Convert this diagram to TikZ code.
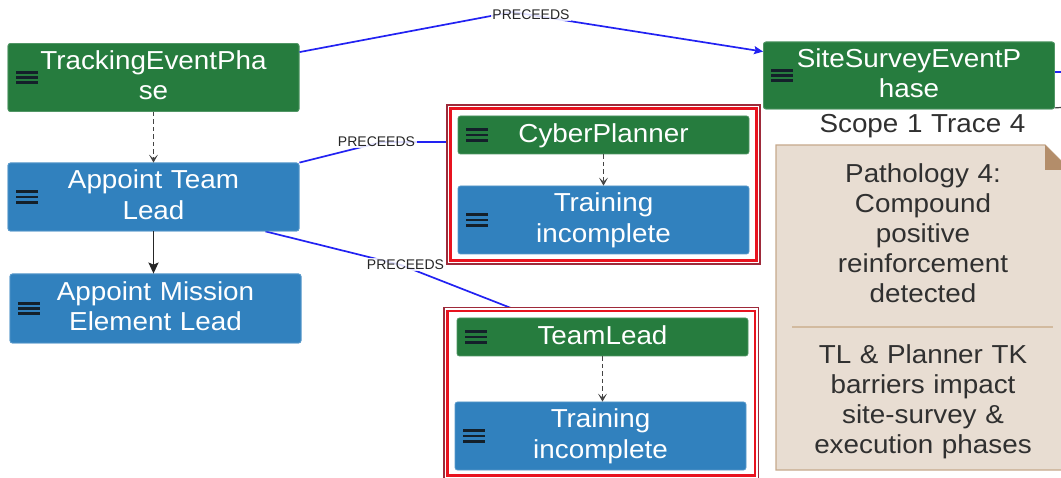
\documentclass[tikz,border=0pt]{standalone}
\usepackage{fontspec}
\setmainfont{Liberation Sans}[FakeStretch=1.07]
\newfontfamily\tagfont{Liberation Sans}
\usetikzlibrary{arrows.meta,calc}

\definecolor{phasegreen}{HTML}{267C3E}
\definecolor{taskblue}{HTML}{3181BE}
\definecolor{linkblue}{HTML}{2222F2}
\definecolor{flowgray}{HTML}{444444}
\definecolor{tagink}{HTML}{262626}
\definecolor{framered}{HTML}{E8131F}
\definecolor{framedark}{HTML}{9E2A3A}
\definecolor{notefill}{HTML}{E8DDD2}
\definecolor{noteedge}{HTML}{C6A98C}
\definecolor{notefold}{HTML}{B38D6A}
\definecolor{notedivider}{HTML}{D2BA9F}
\definecolor{noteink}{HTML}{303030}
\definecolor{iconink}{HTML}{14202A}

\tikzset{
  box/.style={rounded corners=2.5pt, line width=0.8pt, inner xsep=0pt, inner ysep=0pt,
    text width=291pt, align=center, text=white,
    font=\fontsize{26}{30.5}\selectfont, text height=19pt},
  twoline/.style={minimum height=68pt, text depth=35pt},
  oneline/.style={minimum height=38pt, text depth=4pt},
  phase/.style={box, fill=phasegreen, draw=phasegreen!80!white},
  task/.style={box, fill=taskblue, draw=taskblue!80!white},
  link/.style={draw=linkblue, line width=1.7pt},
  linkhead/.style={-{Stealth[length=9pt,width=8pt,inset=1.5pt]}},
  flow/.style={draw=flowgray, line width=1.7pt, dash pattern=on 4.5pt off 3pt,
    -{Stealth[length=8pt,width=9pt,inset=4pt]}},
  handoff/.style={draw=black!85, line width=1.8pt,
    -{Stealth[length=11pt,width=10pt,inset=2pt]}},
  tag/.style={font=\tagfont\fontsize{14}{15}\selectfont, text=tagink,
    fill=white, fill opacity=0.85, text opacity=1, inner sep=1.5pt},
  outerframe/.style={draw=framedark, line width=1.2pt, fill=white},
  innerframe/.style={draw=framered, line width=2.6pt},
  notetext/.style={text width=285pt, align=center, anchor=base, text=noteink,
    font=\fontsize{26}{30}\selectfont},
  menuicon/.pic={
    \foreach \k in {-1,0,1}{\fill[iconink] (0,\k*5.2-1.4) rectangle (22,\k*5.2+1.4);}
  }
}

\begin{document}
\begin{tikzpicture}[x=1pt,y=-1pt]
\useasboundingbox (0,0) rectangle (1061,478);

% bends of the PRECEEDS connectors and off-picture ends
\coordinate (bendA) at (512,12);
\coordinate (bendB) at (382,142);
\coordinate (bendC) at (401,265);
\coordinate (offblue) at (1061,72);
\coordinate (offgray) at (1061,107.5);

% phase and step boxes (placed first so connectors can refer to them)
\path
  node[phase, twoline] (tep)  at (153.5,77.5) {TrackingEventPha\\se}
  node[task,  twoline] (atl)  at (153.5,197)  {Appoint Team\\Lead}
  node[task,  twoline, minimum height=69pt] (amel) at (155.5,308.5) {Appoint Mission\\Element Lead}
  node[phase, twoline, minimum height=67pt] (ssep) at (909,75.5) {SiteSurveyEventP\\hase}
  node[phase, oneline] (cp)   at (603.5,135)  {CyberPlanner}
  node[task,  twoline] (cpt)  at (603.5,220)  {Training\\incomplete}
  node[phase, oneline] (tl)   at (602.5,337)  {TeamLead}
  node[task,  twoline] (tlt)  at (600.5,436)  {Training\\incomplete};

% PRECEEDS connectors
\draw[link, linkhead] ($(tep.north east)+(0,9)$) -- (bendA) -- ($(ssep.north west)+(0,10)$);
\draw[link, linkhead] (atl.north east) -- (bendB) -- ($(cp.west)+(0,7)$);
\draw[link, linkhead] ($(atl.south east)+(-34,0)$) -- (bendC) -- ($(tl.north)+(-67,0)$);
\draw[link] ($(ssep.east)+(0,-3.5)$) -- (offblue);
\draw[flowgray, line width=1.2pt] ($(ssep.south east)+(0,-1.5)$) -- (offgray);

% highlighted groups
\draw[outerframe] (447,105) rectangle (760,264);
\draw[innerframe] (450.5,108.5) rectangle (756.5,260.5);
\draw[outerframe] (444,307.5) rectangle (758.5,479);
\draw[innerframe] (447.5,311) rectangle (755,475.5);

% connector labels
\node[tag] (tagA) at (531,14.5)  {PRECEEDS};
\node[tag] (tagB) at (376.5,141.5) {PRECEEDS};
\node[tag] (tagC) at (405.5,264.5) {PRECEEDS};

% boxes drawn again on top of the frames
\path
  node[phase, twoline] at (tep) {TrackingEventPha\\se}
  node[task,  twoline] at (atl) {Appoint Team\\Lead}
  node[task,  twoline, minimum height=69pt] at (amel) {Appoint Mission\\Element Lead}
  node[phase, twoline, minimum height=67pt] at (ssep) {SiteSurveyEventP\\hase}
  node[phase, oneline] at (cp)  {CyberPlanner}
  node[task,  twoline] at (cpt) {Training\\incomplete}
  node[phase, oneline] at (tl)  {TeamLead}
  node[task,  twoline] at (tlt) {Training\\incomplete};

% menu icons
\foreach \n in {tep,atl,amel,ssep,cp,cpt,tl,tlt}{
  \pic at ($(\n.west)+(8,0)$) {menuicon};
}

% flow inside and between steps
\draw[flow] (tep.south) -- (atl.north);
\draw[flow] (cp.south) -- (cpt.north);
\draw[flow] (tl.south) -- (tl.south |- tlt.north);
\draw[handoff] (atl.south) -- (atl.south |- amel.north);

% annotation note
\node[notetext] (scope) at (922.5,133) {Scope 1 Trace 4};
\filldraw[fill=notefill, draw=noteedge, line width=1.2pt]
  (776,145) -- (1045,145) -- (1070,170) -- (1070,470) -- (776,470) -- cycle;
\fill[notefold] (1045,145) -- (1045,170) -- (1070,170) -- cycle;
\draw[notedivider, line width=2pt] (792,327.5) -- (1053,327.5);
\node[notetext] (pathology) at (923,183) {Pathology 4:\\Compound\\positive\\reinforcement\\detected};
\node[notetext] (barriers) at (923,364) {TL \& Planner TK\\barriers impact\\site-survey \&\\execution phases};
\end{tikzpicture}
\end{document}
